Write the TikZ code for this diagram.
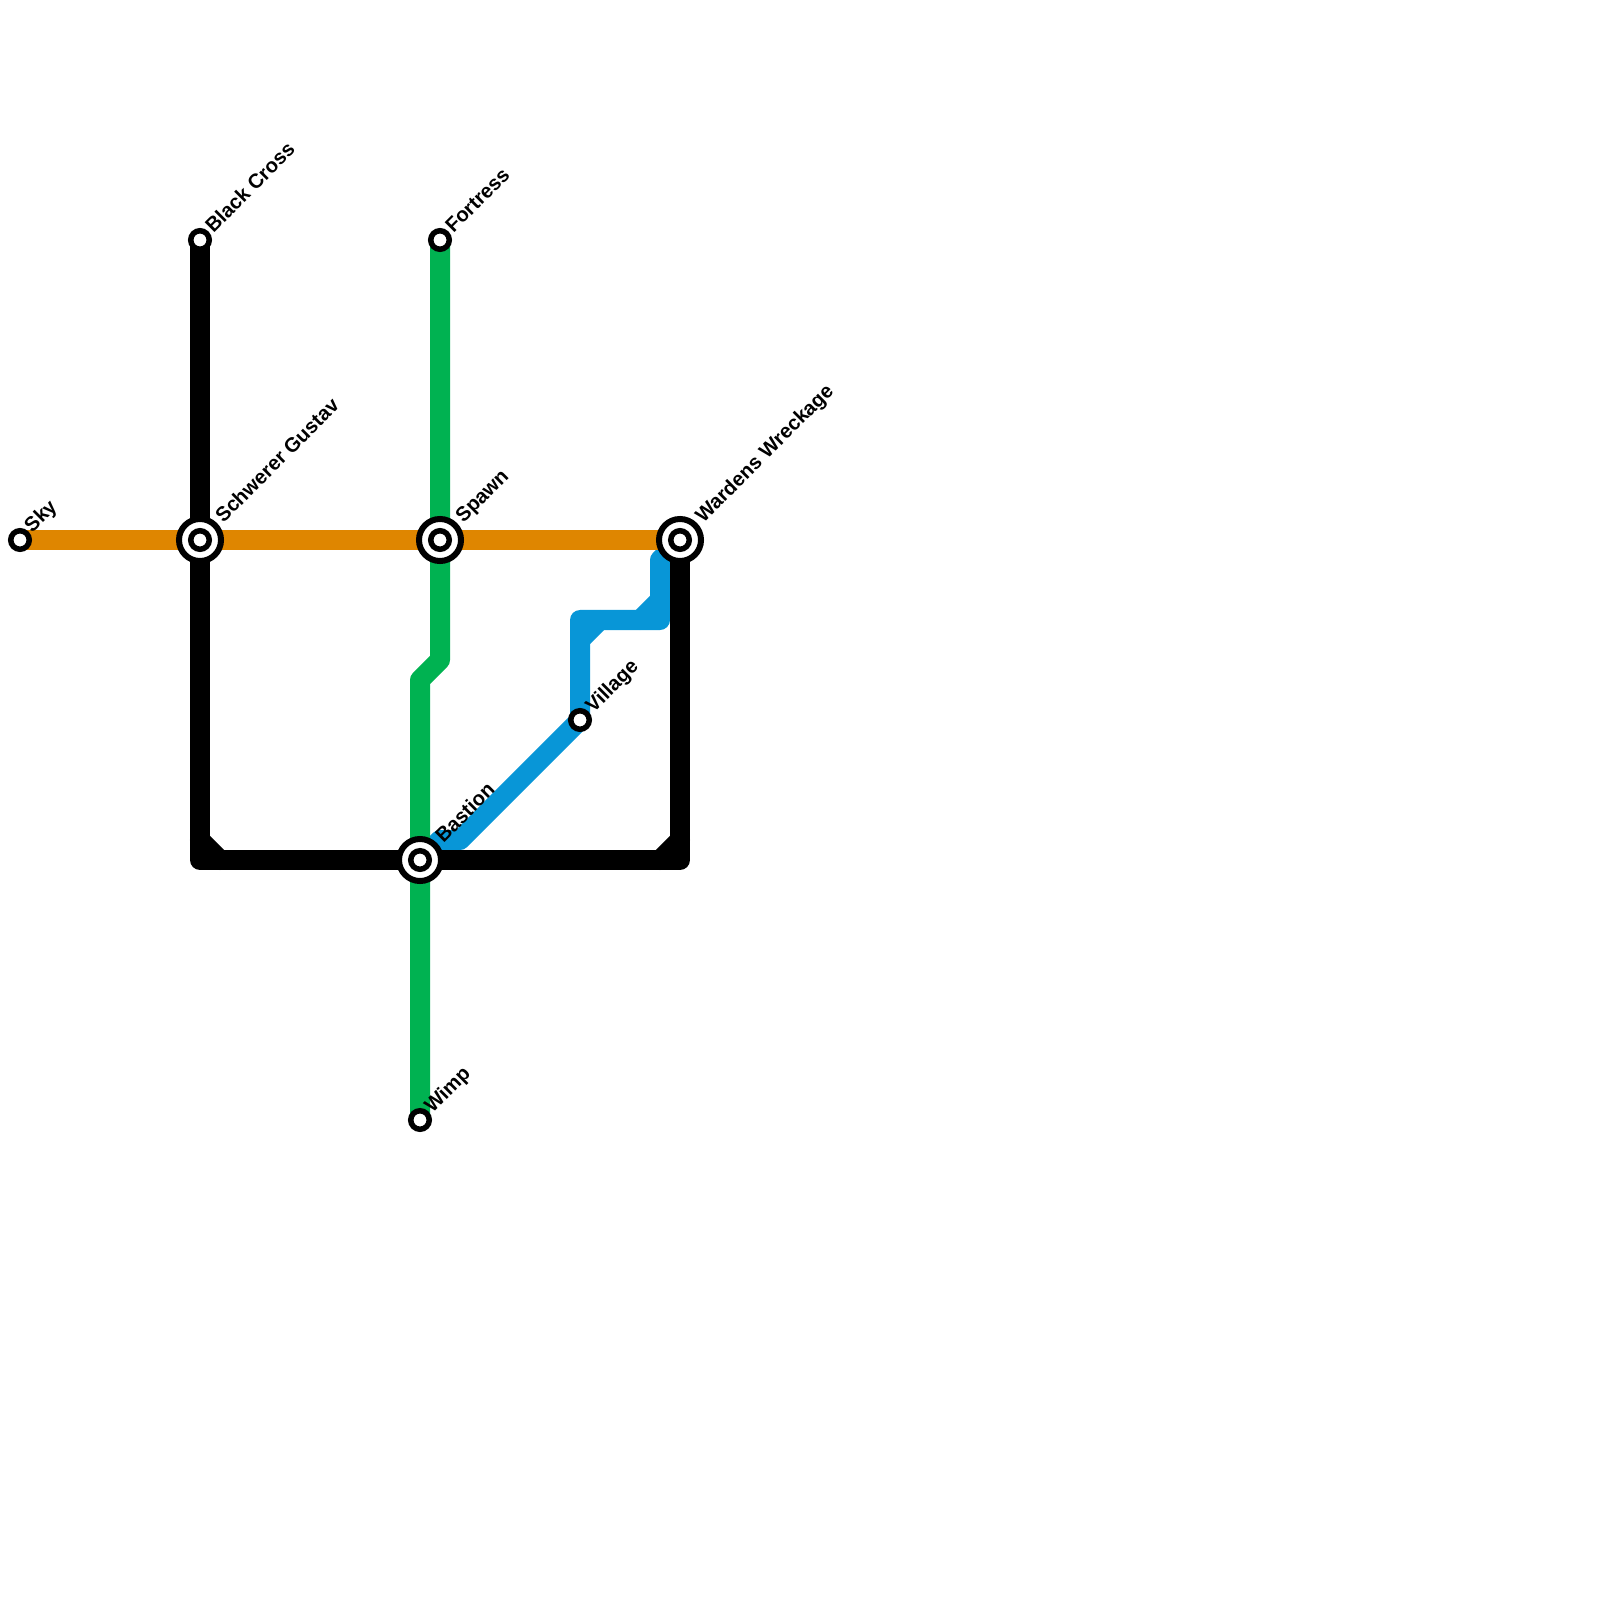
\documentclass[tikz,border=0pt]{standalone}
\usepackage{fontspec}
\setmainfont{Liberation Sans}
\usetikzlibrary{backgrounds}
\definecolor{lineorange}{HTML}{DF8600}
\definecolor{linegreen}{HTML}{00B251}
\definecolor{lineblue}{HTML}{0896D7}
\tikzset{
    route/.style={line width=2mm, line join=round, line cap=round},
    stop/.style={circle, draw=black, fill=white, line width=0.55mm, minimum size=1.85mm, inner sep=0pt, outer sep=0pt},
    hub/.style={circle, draw=black, fill=white, line width=0.6mm, minimum size=4.2mm, inner sep=0pt, outer sep=0pt},
    stoplabel/.style={anchor=base west, rotate=45, inner sep=0pt, font=\bfseries\fontsize{5.75}{7}\selectfont, text=black},
}
\begin{document}
\begin{tikzpicture}[x=0.01cm, y=-0.01cm]
    \useasboundingbox (0,0) rectangle (1600,1600);
    % interchange rings
    \foreach \name/\px/\py in {gustav/200/540, spawn/440/540, wardens/680/540, bastion/420/860} {
        \node[hub] (\name) at (\px,\py) {};
    }
    % station dots
    \foreach \name/\px/\py in {sky/20/540, blackcross/200/240, fortress/440/240, wimp/420/1120, village/580/720,
        gustavdot/200/540, spawndot/440/540, wardensdot/680/540, bastiondot/420/860} {
        \node[stop] (\name) at (\px,\py) {};
    }
    % labels
    \foreach \name/\dx/\dy/\txt in {sky/12/-6/Sky, blackcross/13/-6/Black Cross, fortress/13/-6/Fortress,
        wimp/12/-6/Wimp, village/13/-6/Village, gustav/23/-16/Schwerer Gustav, spawn/23/-16/Spawn,
        wardens/23/-16/Wardens Wreckage, bastion/23/-16/Bastion} {
        \node[stoplabel] (\name label) at ([shift={(\dx,\dy)}]\name.center) {\txt};
    }
    % bends
    \coordinate (gbendtop) at (440,660);
    \coordinate (gbendlow) at (420,680);
    \coordinate (ktopleft) at (200,840);
    \coordinate (kcornerl) at (200,860);
    \coordinate (kinnerl) at (220,860);
    \coordinate (kcornerr) at (680,860);
    \coordinate (kinnerr) at (660,860);
    \coordinate (kupperr) at (680,840);
    \coordinate (bdiag) at (460,840);
    \coordinate (bflat) at (440,840);
    \coordinate (bcorner) at (580,620);
    \coordinate (bchamfer) at (580,640);
    \coordinate (bchamfertop) at (600,620);
    \coordinate (brun) at (660,620);
    \coordinate (brunleft) at (640,620);
    \coordinate (brise) at (660,600);
    \coordinate (btop) at (660,560);
    \begin{scope}[on background layer]
        \draw[route, lineblue] (bastion.center) -- (bflat) -- (bdiag) -- (village.center) -- (bcorner) -- (brun) -- (btop) -- (wardens.center);
        \draw[route, lineblue] (bchamfer) -- (bchamfertop);
        \draw[route, lineblue] (brunleft) -- (brise);
        \draw[route, linegreen] (fortress.center) -- (gbendtop) -- (gbendlow) -- (wimp.center);
        \draw[route, black] (blackcross.center) -- (kcornerl) -- (kcornerr) -- (wardens.center);
        \draw[route, black] (ktopleft) -- (kinnerl);
        \draw[route, black] (kinnerr) -- (kupperr);
        \draw[route, lineorange] (sky.center) -- (wardens.center);
    \end{scope}
\end{tikzpicture}
\end{document}
